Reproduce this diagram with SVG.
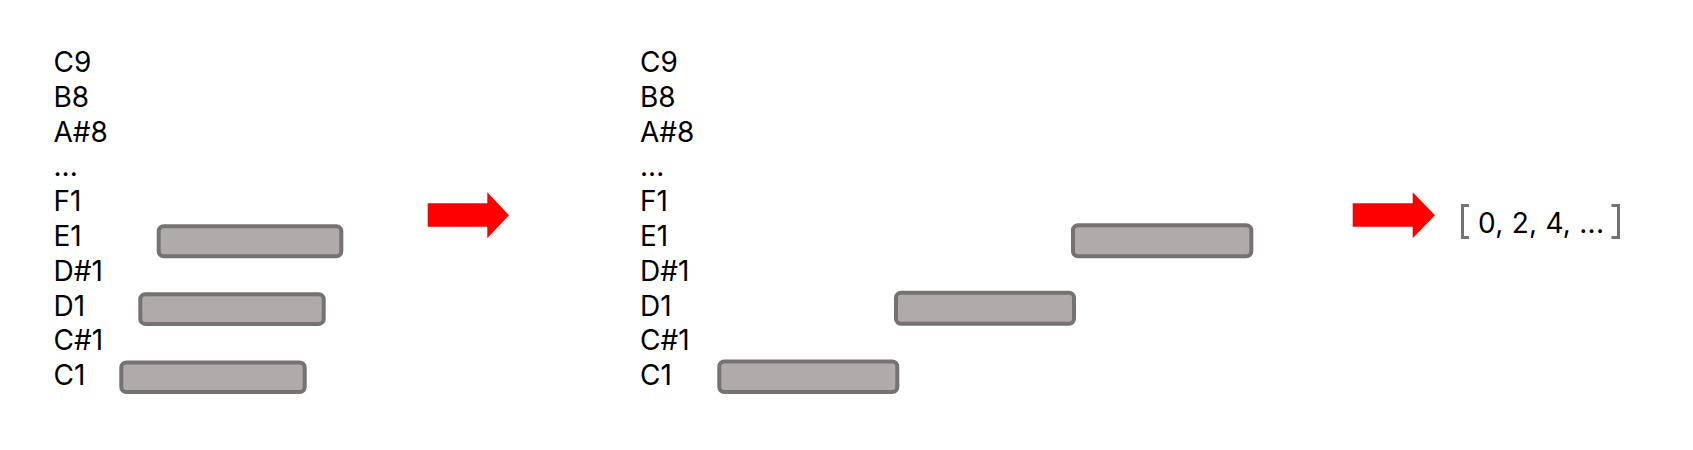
<svg xmlns="http://www.w3.org/2000/svg" width="1693" height="450" viewBox="0 0 1693 450">
  <style>
    .lbl { font-family: Inter, "Noto Sans", "Liberation Sans", sans-serif; font-size: 28px; fill: #000; }
    .bar { fill: #AFABAA; stroke: #767271; stroke-width: 4; }
    .arrow { fill: #FF0000; stroke: none; }
    .brk { fill: none; stroke: #767271; stroke-width: 3; }
  </style>
  <rect width="1693" height="450" fill="#FFFFFF"/>

  <g id="panel-before">
    <g id="labels-before" class="lbl">
      <text x="53.5" y="72">C9</text>
      <text x="53.5" y="106.8">B8</text>
      <text x="53.5" y="141.6">A#8</text>
      <text x="53.5" y="176.4">...</text>
      <text x="53.5" y="211.2">F1</text>
      <text x="53.5" y="246">E1</text>
      <text x="53.5" y="280.8">D#1</text>
      <text x="53.5" y="315.6">D1</text>
      <text x="53.5" y="350.4">C#1</text>
      <text x="53.5" y="385.2">C1</text>
    </g>
    <g id="note-before-E1"><rect class="bar" x="158.7" y="226.3" width="182.6" height="30" rx="5"/></g>
    <g id="note-before-D1"><rect class="bar" x="140.3" y="294.3" width="183.4" height="29.6" rx="5"/></g>
    <g id="note-before-C1"><rect class="bar" x="121.3" y="362.5" width="183.4" height="29.6" rx="5"/></g>
  </g>

  <g id="panel-after">
    <g id="labels-after" class="lbl">
      <text x="640" y="72">C9</text>
      <text x="640" y="106.8">B8</text>
      <text x="640" y="141.6">A#8</text>
      <text x="640" y="176.4">...</text>
      <text x="640" y="211.2">F1</text>
      <text x="640" y="246">E1</text>
      <text x="640" y="280.8">D#1</text>
      <text x="640" y="315.6">D1</text>
      <text x="640" y="350.4">C#1</text>
      <text x="640" y="385.2">C1</text>
    </g>
    <g id="note-after-C1"><rect class="bar" x="719.3" y="361.5" width="178" height="30.5" rx="5"/></g>
    <g id="note-after-D1"><rect class="bar" x="896" y="292.7" width="178" height="31" rx="5"/></g>
    <g id="note-after-E1"><rect class="bar" x="1073" y="225.3" width="178.3" height="31" rx="5"/></g>
  </g>

  <g id="result">
    <path class="brk" d="M1469 205.5 H1462.5 V237.5 H1469"/>
    <path class="brk" d="M1611.5 205.5 H1618.5 V237.5 H1611.5"/>
    <text class="lbl" x="1478" y="232.5" textLength="126" lengthAdjust="spacing">0, 2, 4, ...</text>
  </g>

  <g id="connectors">
    <polygon class="arrow" points="427.7,203.3 487.3,203.3 487.3,192.3 509,215.3 487.3,238.3 487.3,226.7 427.7,226.7"/>
    <polygon class="arrow" points="1352.7,203.3 1412.7,203.3 1412.7,192.3 1435,215.3 1412.7,238.3 1412.7,226.7 1352.7,226.7"/>
  </g>
</svg>
